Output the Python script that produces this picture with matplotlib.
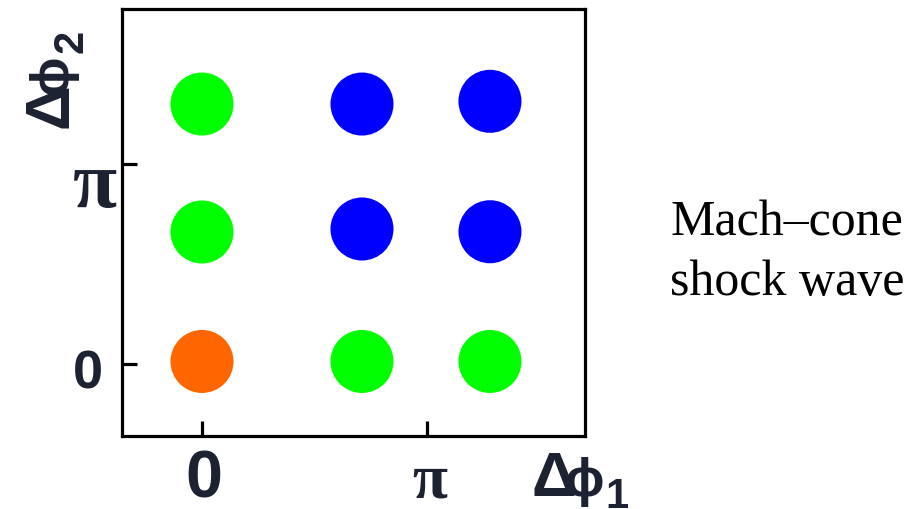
import numpy as np
import matplotlib
matplotlib.use("Agg")
import matplotlib.pyplot as plt

# ---- data (radians) ----
dphi1 = [0.0, 2.234, 4.021, 0.0, 2.234, 4.021, 0.0, 2.234, 4.021]
dphi2 = [4.084, 4.084, 4.127, 2.074, 2.121, 2.078, 0.04, 0.04, 0.04]
point_colors = ["#00ff00", "#0000ff", "#0000ff",
                "#00ff00", "#0000ff", "#0000ff",
                "#ff6600", "#00ff00", "#00ff00"]
xtick_vals = [0.0, np.pi]
xtick_labels = ["0", "π"]
ytick_vals = [0.0, np.pi]
ytick_labels = ["0", "π"]
xlabel_parts = ["Δ", "ϕ", "1"]
ylabel_parts = ["Δ", "ϕ", "2"]
side_text = "Mach–cone\nshock wave"

navy = "#1d2233"
W, H = 923, 510

fig = plt.figure(figsize=(9.23, 5.10), dpi=100)
ax = fig.add_axes([122/W, 1-437/H, (585-122)/W, (437-10)/H])
ax.set_xlim(-1.117, 5.348)
ax.set_ylim(-1.131, 5.577)

ax.scatter(dphi1, dphi2, s=2060, c=point_colors, linewidths=0, zorder=3)

for sp in ax.spines.values():
    sp.set_linewidth(2.3)
    sp.set_color("black")

ax.set_xticks(xtick_vals)
ax.set_yticks(ytick_vals)
ax.tick_params(direction="in", length=10.5, width=2.3, color="black",
               labelbottom=False, labelleft=False)

sans_bold = dict(family=["Liberation Sans", "DejaVu Sans"], weight="bold", color=navy)
serif_bold = dict(family="Liberation Serif", weight="bold", color=navy)

# x tick labels
xt = ax.get_xaxis_transform()
for v, lab in zip(xtick_vals, xtick_labels):
    if lab == "0":
        ax.annotate(lab, xy=(v, 0), xycoords=xt, xytext=(2, -61),
                    textcoords="offset pixels", ha="center", va="baseline",
                    fontsize=48, annotation_clip=False, **sans_bold)
    else:
        ax.annotate(lab, xy=(v, 0), xycoords=xt, xytext=(3, -61),
                    textcoords="offset pixels", ha="center", va="baseline",
                    fontsize=46, annotation_clip=False, **serif_bold)

# y tick labels
yt = ax.get_yaxis_transform()
for v, lab in zip(ytick_vals, ytick_labels):
    if lab == "0":
        ax.annotate(lab, xy=(0, v), xycoords=yt, xytext=(-19, -23),
                    textcoords="offset pixels", ha="right", va="baseline",
                    fontsize=39, annotation_clip=False, **sans_bold)
    else:
        ax.annotate(lab, xy=(0, v), xycoords=yt, xytext=(-5, -42),
                    textcoords="offset pixels", ha="right", va="baseline",
                    fontsize=58, annotation_clip=False, **serif_bold)

# axis labels (Δ, ϕ, subscript)
x_pos = [(531, 496, 45), (565, 496, 38), (605, 508, 30)]
for (px, py, fs), s in zip(x_pos, xlabel_parts):
    fig.text(px/W, 1-py/H, s, ha="left", va="baseline", fontsize=fs, **sans_bold)

y_pos = [(67, 128, 45), (67, 94, 38), (82, 53, 30)]
for (px, py, fs), s in zip(y_pos, ylabel_parts):
    fig.text(px/W, 1-py/H, s, ha="left", va="baseline", rotation=90,
             rotation_mode="anchor", fontsize=fs, **sans_bold)

fig.text(670/W, 1-295/H, side_text, ha="left", va="baseline",
         fontsize=36, family="Liberation Serif", color="black", linespacing=1.38)

fig.savefig("out.png", dpi=100)
